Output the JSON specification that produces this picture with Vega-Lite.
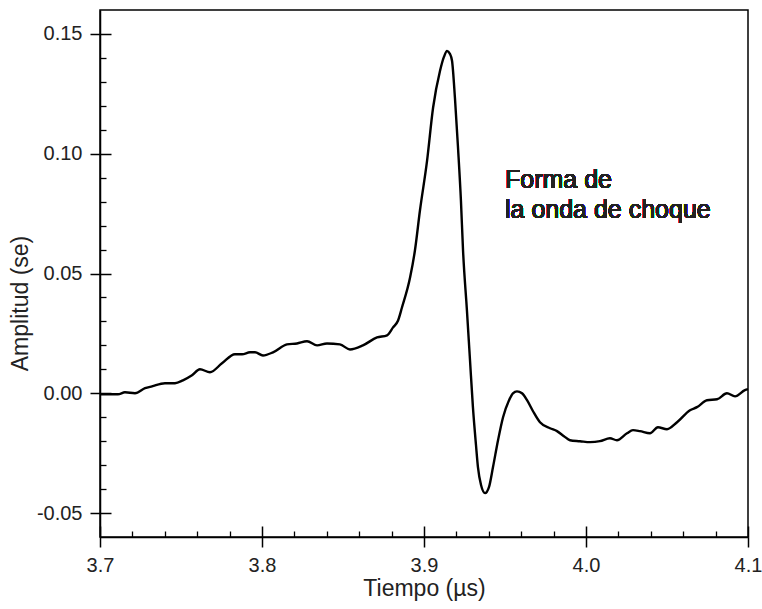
{
  "$schema": "https://vega.github.io/schema/vega-lite/v6.json",
  "width": 648,
  "height": 527,
  "autosize": {"type": "none"},
  "padding": {"left": 100, "top": 10, "right": 14, "bottom": 72},
  "background": "white",
  "config": {"view": {"stroke": "#000", "strokeWidth": 1.5}, "font": "Liberation Sans"},
  "data": {"values": [
    {"t": 3.7, "v": -0.0004}, {"t": 3.7031, "v": -0.0004}, {"t": 3.7111, "v": -0.0004}, {"t": 3.7154, "v": 0.0004},
    {"t": 3.7216, "v": 0.0}, {"t": 3.7278, "v": 0.0021}, {"t": 3.7321, "v": 0.0029}, {"t": 3.7401, "v": 0.0042},
    {"t": 3.7463, "v": 0.0042}, {"t": 3.7512, "v": 0.0054}, {"t": 3.7568, "v": 0.0075}, {"t": 3.7617, "v": 0.01},
    {"t": 3.7679, "v": 0.0088}, {"t": 3.7753, "v": 0.0125}, {"t": 3.7833, "v": 0.0163}, {"t": 3.7877, "v": 0.0163},
    {"t": 3.7926, "v": 0.0171}, {"t": 3.7957, "v": 0.0171}, {"t": 3.8006, "v": 0.0158}, {"t": 3.8068, "v": 0.0171},
    {"t": 3.8154, "v": 0.0204}, {"t": 3.8216, "v": 0.0208}, {"t": 3.8278, "v": 0.0217}, {"t": 3.834, "v": 0.02},
    {"t": 3.8401, "v": 0.0208}, {"t": 3.8481, "v": 0.0204}, {"t": 3.8543, "v": 0.0183}, {"t": 3.8623, "v": 0.02},
    {"t": 3.871, "v": 0.0233}, {"t": 3.8772, "v": 0.0242}, {"t": 3.8809, "v": 0.0275}, {"t": 3.884, "v": 0.0304},
    {"t": 3.8864, "v": 0.0358}, {"t": 3.8914, "v": 0.0483}, {"t": 3.8944, "v": 0.0596}, {"t": 3.8975, "v": 0.0763},
    {"t": 3.9019, "v": 0.0971}, {"t": 3.9056, "v": 0.1192}, {"t": 3.9099, "v": 0.1346}, {"t": 3.9123, "v": 0.1404},
    {"t": 3.9142, "v": 0.1429}, {"t": 3.916, "v": 0.1417}, {"t": 3.9173, "v": 0.1388}, {"t": 3.9191, "v": 0.1233},
    {"t": 3.921, "v": 0.1025}, {"t": 3.9228, "v": 0.0804}, {"t": 3.9241, "v": 0.0596}, {"t": 3.9265, "v": 0.0346},
    {"t": 3.9284, "v": 0.0138}, {"t": 3.9302, "v": -0.0058}, {"t": 3.9321, "v": -0.0217}, {"t": 3.9333, "v": -0.0308},
    {"t": 3.9352, "v": -0.0383}, {"t": 3.9377, "v": -0.0417}, {"t": 3.9401, "v": -0.0392}, {"t": 3.9426, "v": -0.0308},
    {"t": 3.9457, "v": -0.0196}, {"t": 3.9488, "v": -0.01}, {"t": 3.9525, "v": -0.0029}, {"t": 3.9549, "v": 0.0},
    {"t": 3.9574, "v": 0.0008}, {"t": 3.9605, "v": 0.0}, {"t": 3.9636, "v": -0.0029}, {"t": 3.9673, "v": -0.0075},
    {"t": 3.9716, "v": -0.0121}, {"t": 3.9778, "v": -0.0146}, {"t": 3.9821, "v": -0.0158}, {"t": 3.9864, "v": -0.0179},
    {"t": 3.9901, "v": -0.0196}, {"t": 3.9963, "v": -0.02}, {"t": 4.0025, "v": -0.0204}, {"t": 4.0086, "v": -0.02},
    {"t": 4.0148, "v": -0.0188}, {"t": 4.0191, "v": -0.0196}, {"t": 4.0253, "v": -0.0167}, {"t": 4.029, "v": -0.0154},
    {"t": 4.0333, "v": -0.0158}, {"t": 4.0395, "v": -0.0167}, {"t": 4.0444, "v": -0.0142}, {"t": 4.05, "v": -0.015},
    {"t": 4.0562, "v": -0.0121}, {"t": 4.0642, "v": -0.0071}, {"t": 4.0685, "v": -0.0058}, {"t": 4.0747, "v": -0.0029},
    {"t": 4.0809, "v": -0.0025}, {"t": 4.087, "v": 0.0}, {"t": 4.092, "v": -0.0013}, {"t": 4.0981, "v": 0.0013},
    {"t": 4.1, "v": 0.0017}
  ]},
  "layer": [
    {
      "mark": {"type": "line", "color": "#000", "strokeWidth": 2.4, "interpolate": "monotone"},
      "encoding": {
        "x": {"field": "t", "type": "quantitative",
          "scale": {"domain": [3.7, 4.1], "nice": false, "zero": false},
          "axis": {"orient": "bottom", "values": [3.7, 3.8, 3.9, 4.0, 4.1], "format": ".1f", "grid": false,
            "labelFontSize": 20, "labelColor": "#222", "labelPadding": 8, "labelFlush": false, "labelOverlap": false,
            "tickSize": 10, "tickWidth": 1.5, "tickColor": "#000", "domainColor": "#000", "domainWidth": 1.5,
            "title": "Tiempo (µs)", "titleFontSize": 23, "titleFontWeight": "normal", "titleColor": "#222", "titlePadding": 2}},
        "y": {"field": "v", "type": "quantitative",
          "scale": {"domain": [-0.06, 0.16], "nice": false, "zero": false},
          "axis": {"orient": "left", "values": [-0.05, 0, 0.05, 0.1, 0.15], "grid": false,
            "labelExpr": "replace(format(datum.value, '.2f'), '\u2212', '-')",
            "labelFontSize": 20, "labelColor": "#222", "labelPadding": 8, "labelFlush": false, "labelOverlap": false,
            "tickSize": 10, "tickWidth": 1.5, "tickColor": "#000", "domainColor": "#000", "domainWidth": 1.5,
            "title": "Amplitud (se)", "titleFontSize": 23, "titleFontWeight": "normal", "titleColor": "#222",
            "titleX": -68, "titleY": 293}}
      }
    },
    {
      "mark": {"type": "line", "opacity": 0},
      "encoding": {
        "x": {"field": "t", "type": "quantitative",
          "axis": {"orient": "bottom", "values": [3.7, 3.8, 3.9, 4.0, 4.1], "labels": false, "domain": false, "grid": false, "title": null,
            "tickSize": -11, "tickWidth": 1.5, "tickColor": "#000"}},
        "y": {"field": "v", "type": "quantitative",
          "axis": {"orient": "left", "values": [-0.05, 0, 0.05, 0.1, 0.15], "labels": false, "domain": false, "grid": false, "title": null,
            "tickSize": -11, "tickWidth": 1.5, "tickColor": "#000"}}
      }
    },
    {
      "mark": {"type": "line", "opacity": 0},
      "encoding": {
        "x": {"field": "t", "type": "quantitative",
          "axis": {"orient": "bottom", "values": [3.72, 3.74, 3.76, 3.78, 3.82, 3.84, 3.86, 3.88, 3.92, 3.94, 3.96, 3.98, 4.02, 4.04, 4.06, 4.08],
            "labels": false, "domain": false, "grid": false, "title": null,
            "tickSize": -6, "tickWidth": 1.3, "tickColor": "#000"}},
        "y": {"field": "v", "type": "quantitative",
          "axis": {"orient": "left", "values": [-0.04, -0.03, -0.02, -0.01, 0.01, 0.02, 0.03, 0.04, 0.06, 0.07, 0.08, 0.09, 0.11, 0.12, 0.13, 0.14],
            "labels": false, "domain": false, "grid": false, "title": null,
            "tickSize": -6, "tickWidth": 1.3, "tickColor": "#000"}}
      }
    },
    {
      "mark": {"type": "text", "text": ["Forma de", "la onda de choque"], "align": "left", "baseline": "alphabetic",
        "fontSize": 25, "lineHeight": 30, "font": "Liberation Sans", "color": "#222"},
      "encoding": {
        "x": {"datum": 3.95, "type": "quantitative", "axis": null},
        "y": {"datum": 0.0858, "type": "quantitative", "axis": null}
      }
    }
  ],
  "resolve": {"axis": {"x": "independent", "y": "independent"}}
}
